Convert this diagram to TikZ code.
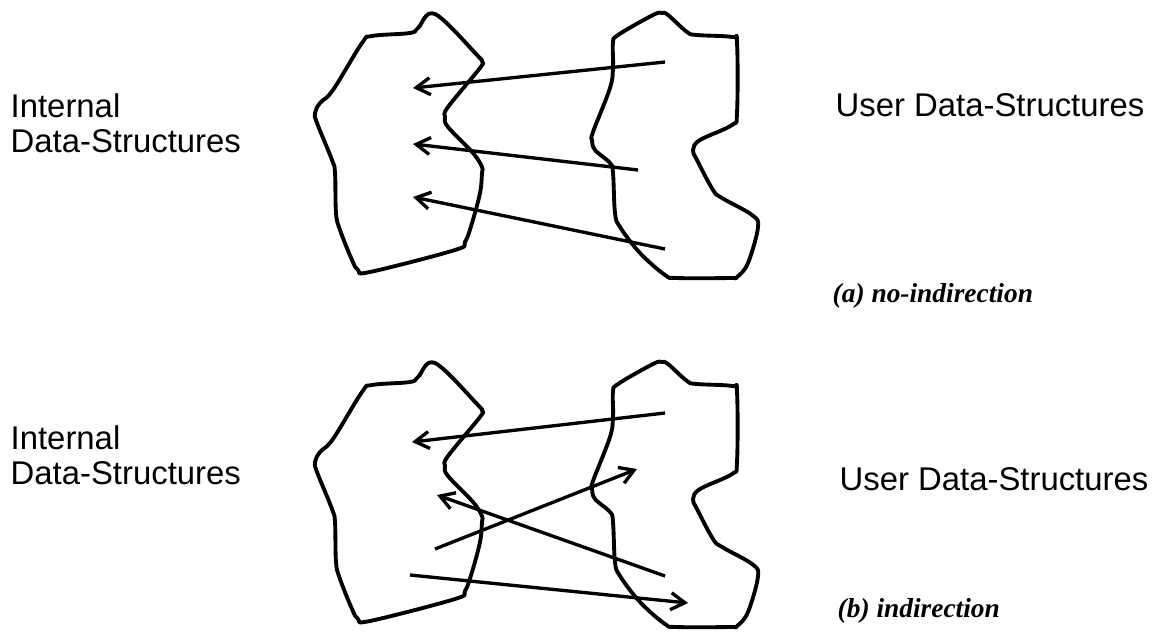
\documentclass[tikz,border=0pt]{standalone}
\usepackage{fontspec}
\setmainfont{Liberation Sans}
\newfontfamily\capfont{Liberation Serif}
\usepackage{tikz}
\usetikzlibrary{arrows.meta}

\tikzset{
  blob/.style={line width=1.1pt, line join=round},
  ptr/.style={line width=0.95pt, -{Straight Barb[length=1.4mm,width=1.7mm]}},
  side/.style={inner sep=0pt, align=left, anchor=north west,
               font=\fontsize{9.35}{10}\selectfont},
  caption/.style={inner sep=0pt, anchor=base west,
                  font=\fontsize{7.8}{9}\selectfont\capfont\bfseries\itshape}
}

\begin{document}
\begin{tikzpicture}[x=1cm, y=-1cm]
\useasboundingbox (0,0) rectangle (11.64,6.32);

% the two memory regions, drawn once per panel
\foreach \dy in {0, 3.49}{
  \begin{scope}[shift={(0,\dy)}]
    \draw[blob] plot[smooth cycle, tension=0.6] coordinates {
      (4.35,0.14) (4.77,0.55) (4.82,0.62) (4.80,0.68) (4.48,1.07) (4.45,1.17)
      (4.48,1.27) (4.73,1.53) (4.82,1.67) (4.82,1.73) (4.80,1.93) (4.72,2.23)
      (4.65,2.42) (4.55,2.50) (3.70,2.72) (3.58,2.70) (3.52,2.60) (3.40,2.30)
      (3.36,2.13) (3.35,1.73) (3.32,1.60) (3.17,1.23) (3.15,1.13) (3.20,1.03)
      (3.33,0.90) (3.62,0.43) (3.72,0.36) (4.10,0.33) (4.18,0.28)};
    \draw[blob] plot[smooth cycle, tension=0.6] coordinates {
      (6.62,0.13) (6.68,0.15) (6.87,0.32) (6.97,0.35) (7.32,0.37) (7.37,0.43)
      (7.37,1.13) (7.32,1.25) (7.00,1.40) (6.93,1.50) (6.97,1.60) (7.13,1.90)
      (7.22,1.98) (7.52,2.15) (7.58,2.27) (7.48,2.63) (7.37,2.77) (7.30,2.78)
      (6.77,2.78) (6.65,2.75) (6.40,2.53) (6.20,2.27) (6.15,2.13) (6.13,1.73)
      (6.10,1.63) (5.95,1.50) (5.92,1.40) (5.93,1.32) (6.10,0.88) (6.13,0.67)
      (6.13,0.43) (6.18,0.35) (6.53,0.15)};
  \end{scope}
}

% (a) no-indirection
\node[side] (intA) at (0.10,0.93) {Internal\\Data-Structures};
\node[side] (userA) at (8.35,0.93) {User Data-Structures};
\node[caption] (capA) at (8.32,3.02) {(a) no-indirection};

\coordinate (ua1) at (6.65,0.62);  \coordinate (ia1) at (4.13,0.88);
\coordinate (ua2) at (6.38,1.70);  \coordinate (ia2) at (4.13,1.44);
\coordinate (ua3) at (6.65,2.49);  \coordinate (ia3) at (4.13,1.97);
\foreach \k in {1,2,3}{
  \draw[ptr] (ua\k) -- (ia\k);
}

% (b) indirection
\node[side] (intB) at (0.10,4.25) {Internal\\Data-Structures};
\node[side] (userB) at (8.39,4.67) {User Data-Structures};
\node[caption] (capB) at (8.37,6.17) {(b) indirection};

\coordinate (ub1) at (6.65,4.13);  \coordinate (ib1) at (4.12,4.42);
\coordinate (ib2) at (4.35,5.49);  \coordinate (ub2) at (6.37,4.69);
\coordinate (ub3) at (6.65,5.76);  \coordinate (ib3) at (4.37,4.95);
\coordinate (ib4) at (4.10,5.75);  \coordinate (ub4) at (6.88,6.03);
\draw[ptr] (ub1) -- (ib1);
\draw[ptr] (ib2) -- (ub2);
\draw[ptr] (ub3) -- (ib3);
\draw[ptr] (ib4) -- (ub4);
\end{tikzpicture}
\end{document}
